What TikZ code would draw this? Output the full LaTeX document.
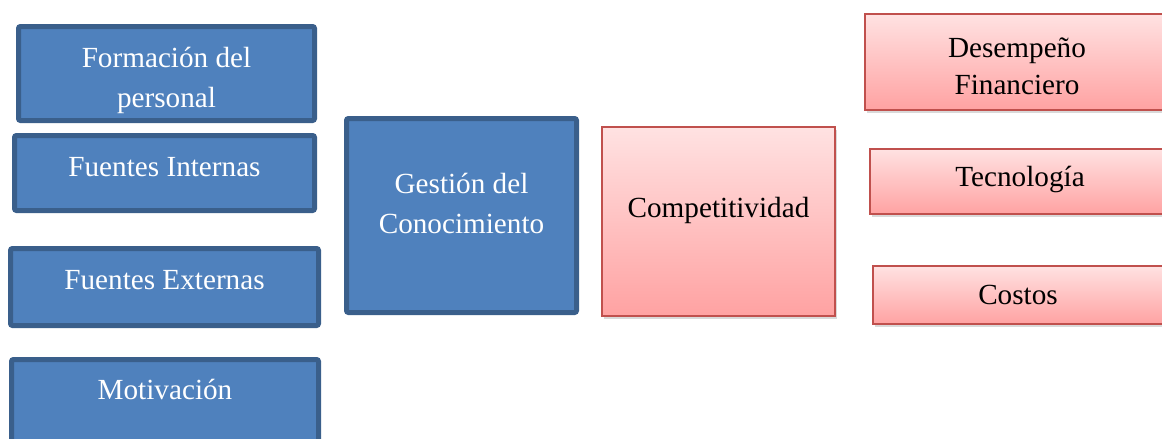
\documentclass[tikz,border=0pt]{standalone}
\usepackage{fontspec}
\setmainfont{Liberation Serif}
\usetikzlibrary{shadows}
\definecolor{boxblue}{HTML}{4F81BD}
\definecolor{edgeblue}{HTML}{3A5F8B}
\definecolor{edgered}{HTML}{C0504D}
\definecolor{redtop}{HTML}{FFE2E2}
\definecolor{redbot}{HTML}{FFA2A2}
\tikzset{
  boxfont/.style={font=\fontsize{14.6}{20}\selectfont},
  bluebox/.style={draw=edgeblue,line width=2.5pt,fill=boxblue,rounded corners=1pt,
    text=white,align=center,inner sep=0pt,boxfont,text height=10pt},
  redbox/.style={draw=edgered,line width=0.8pt,top color=redtop,bottom color=redbot,
    drop shadow={shadow xshift=1pt,shadow yshift=-1.5pt,opacity=0.3},
    text=black,align=center,inner sep=0pt,boxfont,text height=10pt}
}

\begin{document}
\begin{tikzpicture}[x=0.5pt,y=-0.5pt]
  \useasboundingbox (0,0) rectangle (1162,439);
  % factores
  \node[bluebox,minimum width=148pt,minimum height=47pt,text height=34pt,text depth=0.4pt] (formacion) at (166.5,73.5) {Formación del\\personal};
  \node[bluebox,minimum width=150pt,minimum height=37.5pt,text depth=6.4pt] (internas) at (164.5,173) {Fuentes Internas};
  \node[bluebox,minimum width=154pt,minimum height=38.5pt,text depth=7.4pt] (externas) at (164.5,287) {Fuentes Externas};
  \node[bluebox,minimum width=153.5pt,minimum height=41.5pt,text depth=11.4pt] (motivacion) at (165,401) {Motivación};
  \node[bluebox,minimum width=115pt,minimum height=97pt,text height=18pt,text depth=0.4pt] (gestion) at (461.5,215.5) {Gestión del\\Conocimiento};
  % resultados
  \node[redbox,minimum width=116.5pt,minimum height=94.5pt,text depth=14.4pt] (competitividad) at (718.5,221.5) {Competitividad};
  \node[redbox,minimum width=152pt,minimum height=48pt,text height=33pt,text depth=0.4pt,font=\fontsize{14.6}{18.5}\selectfont] (desempeno) at (1017,62) {Desempeño\\Financiero};
  \node[redbox,minimum width=150pt,minimum height=32.5pt,text depth=4.9pt] (tecnologia) at (1020,181.5) {Tecnología};
  \node[redbox,minimum width=145pt,minimum height=29pt,text depth=0.4pt] (costos) at (1018,295) {Costos};
\end{tikzpicture}
\end{document}
